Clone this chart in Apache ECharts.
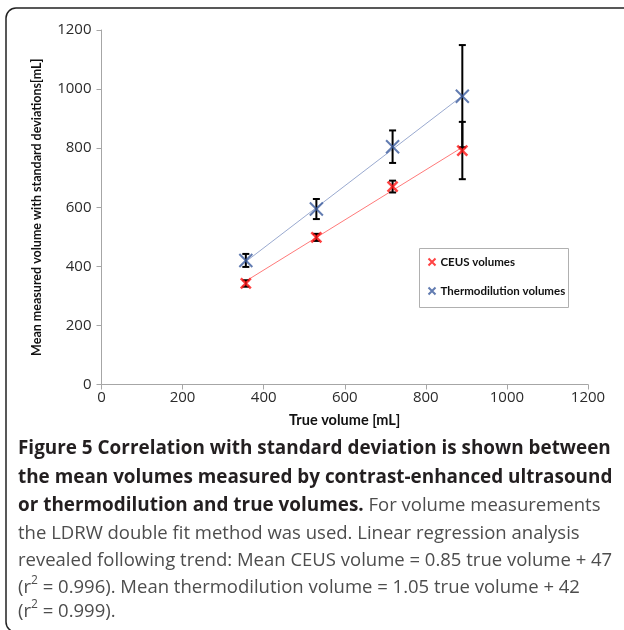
<!DOCTYPE html>
<html>
<head>
<meta charset="utf-8">
<script src="https://cdn.jsdelivr.net/npm/echarts@6/dist/echarts.min.js"></script>
<style>
html,body{margin:0;padding:0;background:#fff;}
#chart{width:624px;height:630px;}
</style>
</head>
<body>
<div id="chart"></div>
<script>
// ---- data ----
const trueVolume = [356, 530, 718, 890];
const ceusMean = [342, 498, 670, 792];
const ceusSD = [11, 12, 20, 97];
const thermoMean = [420, 594, 805, 976];
const thermoSD = [22, 34, 55, 173];
// trend line end points (x, y)
const trendX = [356, 890];
const ceusTrendY = [350, 803];
const thermoTrendY = [416, 977];
const xTicks = [0, 200, 400, 600, 800, 1000, 1200];
const yTicks = [0, 200, 400, 600, 800, 1000, 1200];
const seriesNames = ['CEUS volumes', 'Thermodilution volumes'];
const xAxisTitle = 'True volume [mL]';
const yAxisTitle = 'Mean measured volume with standard deviations[mL]';
const captionLines = [
  'Figure 5 Correlation with standard deviation is shown between',
  'the mean volumes measured by contrast-enhanced ultrasound',
  'or thermodilution and true volumes.',
  ' For volume measurements',
  'the LDRW double fit method was used. Linear regression analysis',
  'revealed following trend: Mean CEUS volume = 0.85 true volume + 47',
  ' = 0.996). Mean thermodilution volume = 1.05 true volume + 42',
  ' = 0.999).'
];

const chart = echarts.init(document.getElementById('chart'), null, {renderer: 'canvas'});

const xMark = 'path://M0,0L10,10M10,0L0,10';
const ceusColor = '#ff1414';
const thermoColor = '#3b5b9e';

function pairs(xs, ys) { return xs.map((x, i) => [x, ys[i]]); }
function errRows(xs, m, s) { return xs.map((x, i) => [x, m[i], s[i]]); }

function errorBarRender(params, api) {
  const x = api.value(0), m = api.value(1), s = api.value(2);
  const top = api.coord([x, m + s]);
  const bot = api.coord([x, m - s]);
  const cap = 3.5;
  const st = {stroke: '#000', lineWidth: 2};
  return {
    type: 'group',
    children: [
      {type: 'line', shape: {x1: top[0], y1: top[1], x2: bot[0], y2: bot[1]}, style: st},
      {type: 'line', shape: {x1: top[0] - cap, y1: top[1], x2: top[0] + cap, y2: top[1]}, style: st},
      {type: 'line', shape: {x1: bot[0] - cap, y1: bot[1], x2: bot[0] + cap, y2: bot[1]}, style: st}
    ]
  };
}

const capFont = '"Open Sans", "DejaVu Sans", sans-serif';
const boldFill = '#231f20';
const normFill = '#4d4d4d';
const capX = 18;
const lineY = [449, 478, 506, 534, 561, 588, 612];

function capText(y, text, rich) {
  return {
    type: 'text', x: capX, y: y, silent: true,
    style: {
      x: 0, y: 0, text: text, rich: rich,
      fontFamily: capFont, fontSize: 18.5, fill: normFill,
      verticalAlign: 'middle', align: 'left'
    }
  };
}

const richStyles = {
  b: {fontFamily: capFont, fontSize: 18.9, fontWeight: 'bold', fill: boldFill, lineHeight: 26},
  n: {fontFamily: capFont, fontSize: 18.5, fill: normFill, lineHeight: 26},
  s: {fontFamily: capFont, fontSize: 12, fill: normFill, verticalAlign: 'top', lineHeight: 26, padding: [0, 0, 10, 0]}
};

const option = {
  backgroundColor: '#fff',
  animation: false,
  grid: {left: 101.5, right: 36, top: 30, bottom: 245.5, containLabel: false},
  xAxis: {
    type: 'value', min: 0, max: 1200, interval: 200,
    name: xAxisTitle, nameLocation: 'middle', nameGap: 28,
    nameTextStyle: {fontFamily: 'Lato, sans-serif', fontWeight: 'bold', fontSize: 14.5, color: '#111'},
    axisLine: {show: true, lineStyle: {color: '#a6a6a6', width: 1}},
    axisTick: {show: true, length: 5, lineStyle: {color: '#a6a6a6'}},
    axisLabel: {fontFamily: capFont, fontSize: 15, color: '#2b2b2b', margin: 6, formatter: v => String(v)},
    splitLine: {show: false}
  },
  yAxis: {
    type: 'value', min: 0, max: 1200, interval: 200,
    name: yAxisTitle, nameLocation: 'middle', nameGap: 58, nameRotate: 90,
    nameTextStyle: {fontFamily: 'Lato, sans-serif', fontWeight: 'bold', fontSize: 12.5, color: '#111'},
    axisLine: {show: true, lineStyle: {color: '#a6a6a6', width: 1}},
    axisTick: {show: true, length: 5, lineStyle: {color: '#a6a6a6'}},
    axisLabel: {fontFamily: capFont, fontSize: 15, color: '#2b2b2b', margin: 10, formatter: v => String(v)},
    splitLine: {show: false}
  },
  legend: {
    orient: 'vertical', left: 426, top: 256, itemGap: 17, padding: 0,
    itemWidth: 7, itemHeight: 7,
    textStyle: {fontFamily: 'Lato, sans-serif', fontWeight: 'bold', fontSize: 11.5, color: '#111'},
    data: [
      {name: seriesNames[0], icon: xMark, itemStyle: {color: 'none', borderColor: ceusColor, borderWidth: 2}},
      {name: seriesNames[1], icon: xMark, itemStyle: {color: 'none', borderColor: thermoColor, borderWidth: 2}}
    ]
  },
  graphic: [
    {type: 'rect', shape: {x: 6, y: 8, width: 640, height: 624, r: 10},
     style: {fill: 'none', stroke: '#222', lineWidth: 1.5}, silent: true},
    {type: 'rect', shape: {x: 419.5, y: 248.5, width: 149, height: 59},
     style: {fill: '#fff', stroke: '#b0b0b0', lineWidth: 1}, silent: true, z: -1},
    capText(lineY[0], '{b|' + captionLines[0] + '}', richStyles),
    capText(lineY[1], '{b|' + captionLines[1] + '}', richStyles),
    capText(lineY[2], '{b|' + captionLines[2] + '}{n|' + captionLines[3] + '}', richStyles),
    capText(lineY[3], '{n|' + captionLines[4] + '}', richStyles),
    capText(lineY[4], '{n|' + captionLines[5] + '}', richStyles),
    capText(lineY[5], '{n|(r}{s|2}{n|' + captionLines[6] + '}', richStyles),
    capText(lineY[6], '{n|(r}{s|2}{n|' + captionLines[7] + '}', richStyles)
  ],
  series: [
    {
      name: 'ceusTrend', type: 'line', data: pairs(trendX, ceusTrendY),
      symbol: 'none', lineStyle: {color: '#ff7a7a', width: 1}, z: 1, silent: true
    },
    {
      name: 'thermoTrend', type: 'line', data: pairs(trendX, thermoTrendY),
      symbol: 'none', lineStyle: {color: '#9aaad0', width: 1}, z: 1, silent: true
    },
    {
      name: 'ceusErr', type: 'custom', renderItem: errorBarRender,
      data: errRows(trueVolume, ceusMean, ceusSD), z: 2, silent: true
    },
    {
      name: 'thermoErr', type: 'custom', renderItem: errorBarRender,
      data: errRows(trueVolume, thermoMean, thermoSD), z: 2, silent: true
    },
    {
      name: seriesNames[0], type: 'scatter', data: pairs(trueVolume, ceusMean),
      symbol: xMark, symbolSize: 10,
      itemStyle: {color: 'none', borderColor: ceusColor, borderWidth: 2.5}, z: 3
    },
    {
      name: seriesNames[1], type: 'scatter', data: pairs(trueVolume, thermoMean),
      symbol: xMark, symbolSize: 13,
      itemStyle: {color: 'none', borderColor: thermoColor, borderWidth: 2}, z: 3
    }
  ]
};
chart.setOption(option);
</script>
</body>
</html>
